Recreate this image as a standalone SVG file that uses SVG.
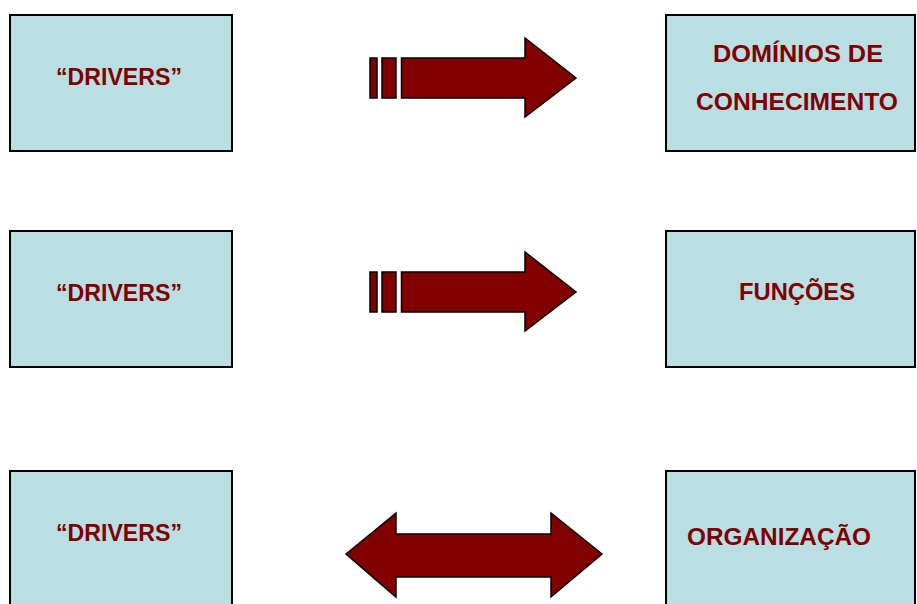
<svg xmlns="http://www.w3.org/2000/svg" width="917" height="604" viewBox="0 0 917 604">
  <style>
    .box { fill: #b9dfe3; stroke: #000; stroke-width: 2; }
    .lbl { font-family: "Liberation Sans", Arial, sans-serif; font-weight: bold; font-size: 24px; fill: #800000; }
    .arrow { fill: #800000; stroke: #000; stroke-width: 1.5; stroke-linejoin: miter; }
  </style>
  <rect width="917" height="604" fill="#fff"/>

  <g id="drivers-1">
    <rect class="box" x="10" y="15" width="222" height="136"/>
    <text class="lbl" x="56" y="85" textLength="126" lengthAdjust="spacingAndGlyphs">“DRIVERS”</text>
  </g>
  <g id="dominios">
    <rect class="box" x="666" y="15" width="249" height="136"/>
    <text class="lbl" x="713" y="62" textLength="170" lengthAdjust="spacingAndGlyphs">DOMÍNIOS DE</text>
    <text class="lbl" x="696" y="110" textLength="202" lengthAdjust="spacingAndGlyphs">CONHECIMENTO</text>
  </g>

  <g id="drivers-2">
    <rect class="box" x="10" y="231" width="222" height="136"/>
    <text class="lbl" x="56" y="301" textLength="126" lengthAdjust="spacingAndGlyphs">“DRIVERS”</text>
  </g>
  <g id="funcoes">
    <rect class="box" x="666" y="231" width="249" height="136"/>
    <text class="lbl" x="739" y="300" textLength="116" lengthAdjust="spacingAndGlyphs">FUNÇÕES</text>
  </g>

  <g id="drivers-3">
    <rect class="box" x="10" y="471" width="222" height="140"/>
    <text class="lbl" x="56" y="541" textLength="126" lengthAdjust="spacingAndGlyphs">“DRIVERS”</text>
  </g>
  <g id="organizacao">
    <rect class="box" x="666" y="471" width="249" height="140"/>
    <text class="lbl" x="687" y="545" textLength="184" lengthAdjust="spacingAndGlyphs">ORGANIZAÇÃO</text>
  </g>

  <g id="connectors">
    <!-- striped block arrow: drivers -> domínios -->
    <g>
      <rect class="arrow" x="370" y="58" width="7" height="40"/>
      <rect class="arrow" x="382" y="58" width="14" height="40"/>
      <polygon class="arrow" points="401.5,58 525,58 525,38 576,78 525,117 525,98 401.5,98"/>
    </g>
    <!-- striped block arrow: drivers -> funções -->
    <g>
      <rect class="arrow" x="370" y="272" width="7" height="40"/>
      <rect class="arrow" x="382" y="272" width="14" height="40"/>
      <polygon class="arrow" points="401.5,272 525,272 525,252 576,292 525,331 525,312 401.5,312"/>
    </g>
    <!-- double-headed block arrow: drivers <-> organização -->
    <polygon class="arrow" points="346,554 396,513 396,534 551,534 551,513 602,554 551,597 551,577 396,577 396,597"/>
  </g>
</svg>
